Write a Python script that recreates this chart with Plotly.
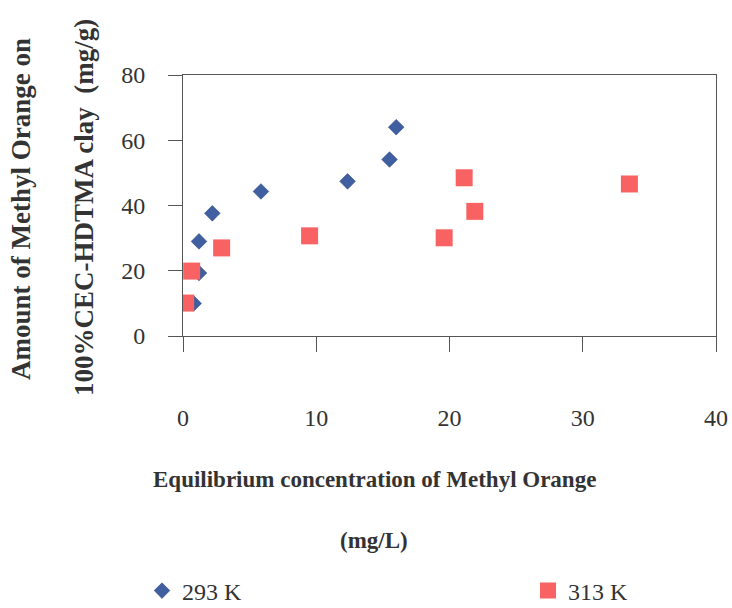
import plotly.graph_objects as go

# Data
x_293 = [0.8, 1.2, 1.2, 2.2, 5.85, 12.35, 15.5, 16.0]
y_293 = [10.0, 19.3, 29.0, 37.6, 44.3, 47.4, 54.1, 64.0]

x_313 = [0.2, 0.65, 2.9, 9.5, 19.6, 21.1, 21.9, 33.5]
y_313 = [10.1, 19.9, 27.0, 30.7, 30.1, 48.5, 38.2, 46.6]

x_ticks = [0, 10, 20, 30, 40]
y_ticks = [0, 20, 40, 60, 80]

FONT = "Liberation Serif, Times New Roman, serif"
TXT = "#333333"

L, R, T, B = 183, 16, 75, 272
PW = 732 - L - R
PH = 608 - T - B


def px(xp):
    return (xp - L) / PW


def py(yp):
    return (608 - B - yp) / PH


fig = go.Figure()
fig.add_trace(go.Scatter(
    x=x_293, y=y_293, mode="markers", name="293 K", legend="legend",
    marker=dict(symbol="diamond", size=12, color="#3F5FA0",
                line=dict(width=0.6, color="#2E4680")),
))
fig.add_trace(go.Scatter(
    x=x_313, y=y_313, mode="markers", name="313 K", legend="legend2",
    marker=dict(symbol="square", size=17, color="#F86262",
                line=dict(width=0)),
))

leg_common = dict(orientation="h", xanchor="left", yanchor="middle",
                  font=dict(size=24, color=TXT), bgcolor="rgba(0,0,0,0)")

fig.update_layout(
    width=732, height=608,
    margin=dict(l=L, r=R, t=T, b=B, autoexpand=False),
    paper_bgcolor="white", plot_bgcolor="white",
    font=dict(family=FONT, size=24, color=TXT),
    showlegend=True,
    legend=dict(x=px(142), y=py(591), **leg_common),
    legend2=dict(x=px(528), y=py(591), **leg_common),
    xaxis=dict(range=[0, 40], tickvals=x_ticks, ticks="outside", ticklen=15,
               tickcolor="#555", showline=True, linecolor="#555", linewidth=1,
               mirror=True, showgrid=False, zeroline=False,
               ticklabelstandoff=45, tickfont=dict(size=24, color=TXT)),
    yaxis=dict(range=[0, 80], tickvals=y_ticks, ticks="outside", ticklen=14,
               tickcolor="#555", showline=True, linecolor="#555", linewidth=1,
               mirror=True, showgrid=False, zeroline=False,
               ticklabelstandoff=18, tickfont=dict(size=24, color=TXT)),
)

# Axis titles (two lines each, widely spaced as in the reference)
fig.add_annotation(text="<b>Equilibrium concentration of Methyl Orange</b>",
                   xref="paper", yref="paper", x=px(374), y=py(479),
                   showarrow=False, font=dict(size=23, color=TXT), xanchor="center", yanchor="middle")
fig.add_annotation(text="<b>(mg/L)</b>",
                   xref="paper", yref="paper", x=px(374), y=py(540),
                   showarrow=False, font=dict(size=23, color=TXT), xanchor="center", yanchor="middle")
fig.add_annotation(text="<b>Amount of Methyl Orange on</b>", textangle=-90,
                   xref="paper", yref="paper", x=px(21), y=py(209),
                   showarrow=False, font=dict(size=27, color=TXT), xanchor="center", yanchor="middle")
fig.add_annotation(text="<b>100%CEC-HDTMA clay  (mg/g)</b>", textangle=-90,
                   xref="paper", yref="paper", x=px(84), y=py(208),
                   showarrow=False, font=dict(size=27, color=TXT), xanchor="center", yanchor="middle")

fig.write_html("out.html", config={"displayModeBar": False})

# remove the default 8px body margin so the figure fills the window exactly
with open("out.html", "r", encoding="utf-8") as f:
    html = f.read()
html = html.replace("<body>", '<body style="margin:0;padding:0;overflow:hidden">', 1)
with open("out.html", "w", encoding="utf-8") as f:
    f.write(html)
